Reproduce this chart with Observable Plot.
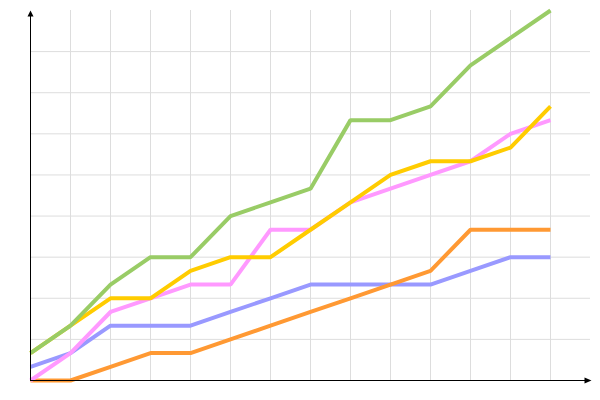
<!DOCTYPE html>
<html>
<head>
<meta charset="utf-8">
<script src="https://cdn.jsdelivr.net/npm/d3@7"></script>
<script src="https://cdn.jsdelivr.net/npm/@observablehq/plot@0.6"></script>
<style>
  html, body { margin: 0; padding: 0; background: #fff; }
  #chart svg { display: block; }
</style>
</head>
<body>
<div id="chart"></div>
<script>
// Data (values in thirds of a grid unit)
const xIndex = [0,1,2,3,4,5,6,7,8,9,10,11,12,13];
const green  = [2,4,7,9,9,12,13,14,19,19,20,23,25,27];
const yellow = [2,4,6,6,8,9,9,11,13,15,16,16,17,20];
const pink   = [0,2,5,6,7,7,11,11,13,14,15,16,18,19];
const purple = [1,2,4,4,4,5,6,7,7,7,7,8,9,9];
const orange = [0,0,1,2,2,3,4,5,6,7,8,11,11,11];
const gridXTicks = [1,2,3,4,5,6,7,8,9,10,11,12,13];
const gridYTicks = [3,6,9,12,15,18,21,24];

const seriesList = [
  {name: "purple", values: purple, color: "#9999ff"},
  {name: "orange", values: orange, color: "#ff9933"},
  {name: "pink",   values: pink,   color: "#ff99ff"},
  {name: "yellow", values: yellow, color: "#ffcc00"},
  {name: "green",  values: green,  color: "#99cc66"}
];

const rows = seriesList.flatMap(s => xIndex.map((x, i) => ({series: s.name, x, y: s.values[i]})));

const arrowUp = {draw(ctx) { ctx.moveTo(0, 0); ctx.lineTo(-3, 6); ctx.lineTo(3, 6); ctx.closePath(); }};
const arrowRight = {draw(ctx) { ctx.moveTo(1, 0); ctx.lineTo(-6, -3); ctx.lineTo(-6, 3); ctx.closePath(); }};

const chart = Plot.plot({
  width: 600,
  height: 400,
  marginLeft: 30,
  marginRight: 10,
  marginTop: 10,
  marginBottom: 20,
  x: {domain: [0, 14], axis: null},
  y: {domain: [0, 27], axis: null},
  color: {domain: seriesList.map(s => s.name), range: seriesList.map(s => s.color)},
  style: {background: "#fff"},
  marks: [
    Plot.ruleX(gridXTicks, {y1: 0, y2: 27, stroke: "#dddddd", strokeWidth: 1}),
    Plot.ruleY(gridYTicks, {x1: 0, x2: 14, stroke: "#dddddd", strokeWidth: 1}),
    ...seriesList.map(s => Plot.line(rows.filter(r => r.series === s.name), {
      x: "x", y: "y", stroke: s.color, strokeWidth: 4, strokeLinejoin: "miter", strokeLinecap: "butt"
    })),
    Plot.ruleX([0], {y1: 0, y2: 26.8, stroke: "#000", strokeWidth: 1}),
    Plot.ruleY([0], {x1: 0, x2: 13.9, stroke: "#000", strokeWidth: 1}),
    Plot.dot([{x: 0, y: 27}], {x: "x", y: "y", symbol: arrowUp, fill: "#000", stroke: "none", r: 3}),
    Plot.dot([{x: 14, y: 0}], {x: "x", y: "y", symbol: arrowRight, fill: "#000", stroke: "none", r: 3})
  ]
});
document.getElementById("chart").appendChild(chart);
</script>
</body>
</html>
